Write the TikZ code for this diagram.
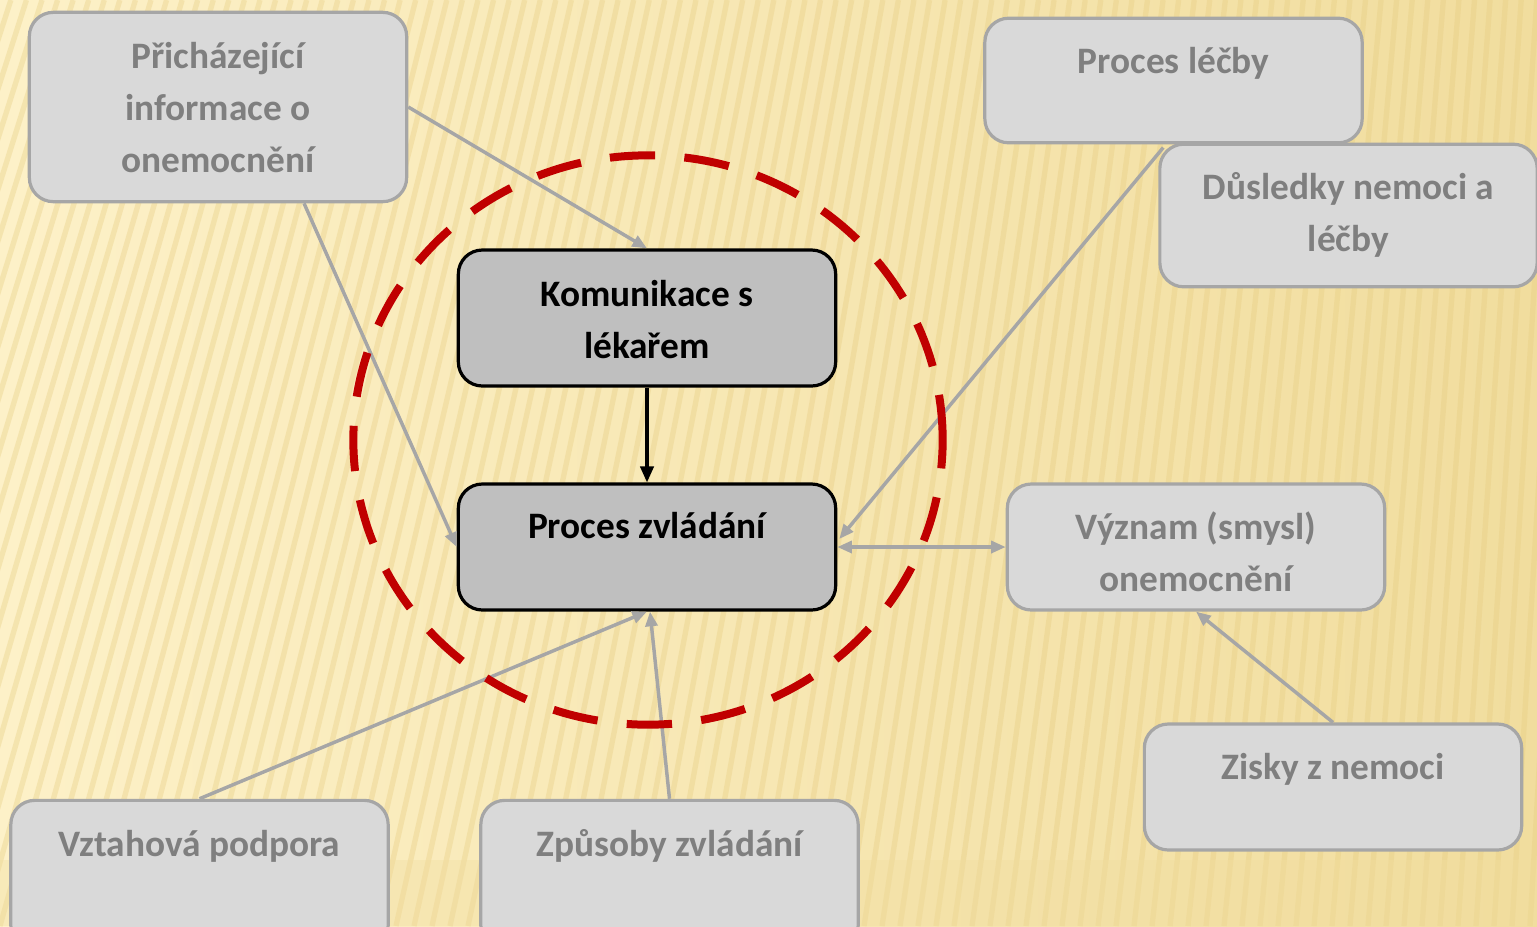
\documentclass[tikz,border=0pt]{standalone}
\usepackage{fontspec}
\setmainfont{Carlito}
\usetikzlibrary{arrows.meta,calc,shapes.geometric}

\definecolor{bgL}{HTML}{FDF1C8}
\definecolor{bgR}{HTML}{F1DD9E}
\definecolor{stripe}{HTML}{E6CC80}
\definecolor{boxfill}{HTML}{D9D9D9}
\definecolor{boxline}{HTML}{A6A6A6}
\definecolor{sidetext}{HTML}{7F7F7F}
\definecolor{corefill}{HTML}{BFBFBF}
\definecolor{ringred}{HTML}{C00000}

\begin{document}
\begin{tikzpicture}[x=0.75pt,y=-0.75pt,
  box/.style={draw=boxline, line width=2.4pt, fill=boxfill,
    rounded corners=18pt, inner sep=0pt, minimum width=283pt},
  corebox/.style={draw=black, line width=2.4pt, fill=corefill,
    rounded corners=18pt, inner sep=0pt, minimum width=283pt},
  sidetxt/.style={text=sidetext, font=\bfseries\fontsize{28}{39}\selectfont,
    align=center, inner sep=0pt},
  coretxt/.style={text=black, font=\bfseries\fontsize{28}{39}\selectfont,
    align=center, inner sep=0pt},
  link/.style={draw=boxline, line width=2.6pt,
    -{Triangle[length=11pt,width=9pt]}},
  blink/.style={draw=black, line width=2.4pt,
    -{Triangle[length=12pt,width=10pt]}},
  ring/.style={draw=ringred, line width=6pt,
    dash pattern=on 34pt off 22pt},
]
% backdrop: warm gradient with slanted ribs
\useasboundingbox (0,0) rectangle (1537,926);
\fill[left color=bgL, right color=bgR] (0,0) rectangle (1537,926);
\begin{scope}
  \clip (0,0) rectangle (1537,926);
  \foreach \i in {-20,...,92} {
    \pgfmathsetmacro\xb{\i*18}
    \pgfmathsetmacro\xt{\xb+260-0.135*\xb}
    \draw[stripe, line width=4pt, opacity=0.35] (\xb,926) -- (\xt,0);
  }
  \fill[bgR, opacity=0.35] (0,860) rectangle (1537,926);
\end{scope}

% boxes
\node[box, minimum height=142pt] (pri) at (218,107) {};
\node[box, minimum height=93.5pt] (lec) at (1173.5,80.5) {};
\node[box, minimum height=107pt] (dus) at (1348.5,215.5) {};
\node[corebox, minimum height=102pt] (kom) at (647,318) {};
\node[corebox, minimum height=94.5pt] (pz) at (647,547) {};
\node[box, minimum height=94.5pt] (vyz) at (1196,547) {};
\node[box, minimum height=94.5pt] (zis) at (1333,787) {};
\node[box, minimum height=112pt] (vzt) at (199.5,875) {};
\node[box, minimum height=112pt] (zpu) at (669.5,875) {};

% labels
\node[sidetxt] (tpri) at (218,108) {Přicházející\\informace o\\onemocnění};
\node[sidetxt, anchor=base] (tlec) at (1173.5,73) {Proces léčby};
\node[sidetxt] (tdus) at (1348.5,215) {Důsledky nemoci a\\léčby};
\node[coretxt] (tkom) at (647,320) {Komunikace s\\lékařem};
\node[coretxt, anchor=base] (tpz) at (647,538) {Proces zvládání};
\node[sidetxt] (tvyz) at (1196,552) {Význam (smysl)\\onemocnění};
\node[sidetxt, anchor=base] (tzis) at (1333,779) {Zisky z nemoci};
\node[sidetxt, anchor=base] (tvzt) at (199.5,856) {Vztahová podpora};
\node[sidetxt, anchor=base] (tzpu) at (669.5,856) {Způsoby zvládání};

% connectors
\draw[link] (pri.east) -- (kom.north);
\draw[link] ($(pri.south)+(86,0)$) -- (pz.west);
\draw[link] ($(dus.north west)+(5,5)$) -- ($(pz.east)+(2,-8)$);
\draw[link, {Triangle[length=11pt,width=9pt]}-{Triangle[length=11pt,width=9pt]}] (pz.east) -- (vyz.west);
\draw[link] (zis.north) -- (vyz.south);
\draw[link] (vzt.north) -- (pz.south);
\draw[link] (zpu.north) -- ($(pz.south)+(3,0)$);
\draw[blink] (kom.south) -- (pz.north);

% dashed ring round the core
\node[ring, ellipse, minimum width=442pt, minimum height=427pt,
  inner sep=0pt] (ringnode) at (648,440) {};
\end{tikzpicture}
\end{document}
